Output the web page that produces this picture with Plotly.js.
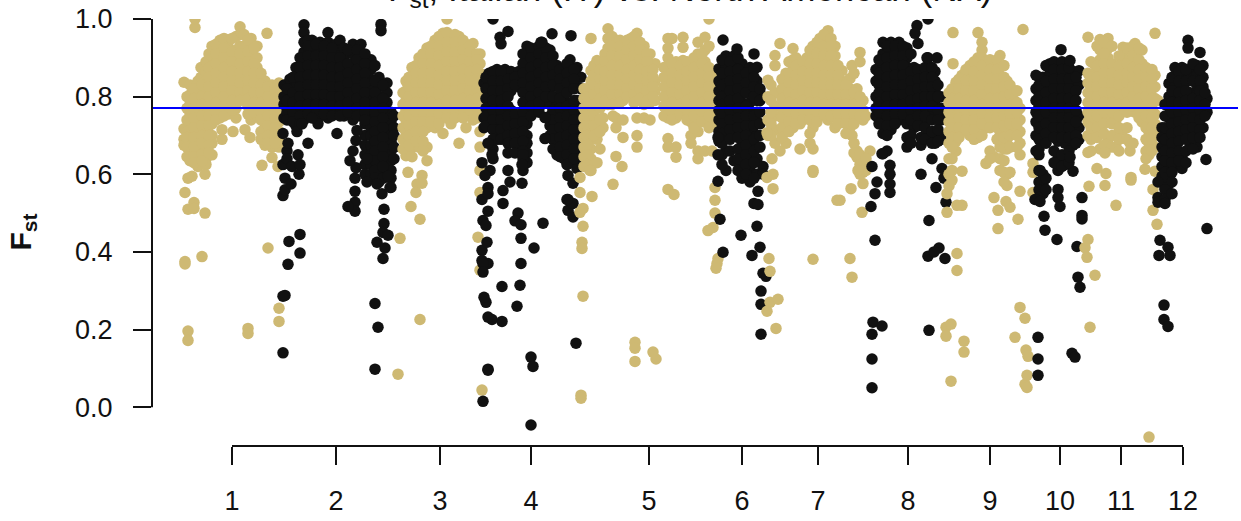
<!DOCTYPE html>
<html><head><meta charset="utf-8">
<script src="https://cdn.plot.ly/plotly-3.0.1.min.js"></script>
<style>html,body{margin:0;padding:0;background:#fff;overflow:hidden}#chart{width:1241px;height:521px}</style>
</head><body><div id="chart"></div>
<script>
// Each entry: [genome position, Fst, Fst, ...].
const chr1 = [
[184,.837,.717,.69,.675],[190,.83,.805,.78,.755,.73,.705,.68,.655,.635],[198,.84,.815,.79,.765,.74,.715,.69,.665,.64,.62],
[201,.875,.85],[206,.89,.865,.84,.815,.79,.765,.74,.715,.69,.665,.64,.625],[212,.93,.905,.88,.855,.83,.805,.78,.755,.73,.70,.68,.65],
[220,.945,.92,.895,.87,.845,.82,.795,.77,.745],[228,.945,.93,.905,.88,.855,.83,.805,.78,.755],[236,.955,.92,.895,.87,.845,.82,.795,.77,.745],
[240,.98,.96,.93],[244,.96,.93,.905,.88,.855,.83,.805,.79],[251,.95,.92,.895,.87,.845,.82,.795,.77,.75,.74],[257,.93,.90,.875,.85,.825,.80,.775,.75],
[265,.84,.815,.79,.765,.74,.72,.70,.675],[272,.83,.805,.78,.755,.73,.71,.69,.67],[279,.835,.81,.785,.76,.735,.71,.69,.67],
[187,.80,.77,.74,.71,.695,.67,.645],[194,.82,.795,.77,.745,.72,.695,.67,.645,.63],[202,.83,.80,.78,.75,.725,.70,.68,.65,.635],
[209,.91,.875,.85,.825,.80,.775,.75,.725,.70,.675,.655],[216,.935,.91,.885,.86,.835,.81,.785,.76,.74],[224,.95,.925,.90,.875,.85,.825,.80,.775,.75],
[232,.95,.915,.89,.865,.84,.815,.79,.765],[240,.91,.885,.86,.835,.81,.79],[248,.945,.915,.89,.865,.84,.815,.795,.775,.755],[254,.925,.885,.86,.835,.81,.785,.76],
[261,.86,.83,.81,.785,.76,.74,.71,.69],[268,.825,.80,.775,.75,.725,.70,.68],[275,.82,.795,.77,.745,.72,.70,.68],
[222,.715,.69],[233,.71],[245,.715],[250,.695],
[185,.553,.375,.369],[188,.59,.51,.196,.172],[192,.595],[194,.527,.512],[205,.60,.50],[202,.388],[248,.203,.19],[279,.255,.221],[268,.41],[195,.978,1.0],[267,.963],[262,.623],[272,.643],[278,.62]
];
const chr2 = [
[284,.83,.80,.78,.745],[290,.845,.82,.795,.77,.745],[296,.875,.85,.825,.80,.775,.75,.725],[304,.985,.965,.94,.915,.89,.865,.84,.815,.79,.765,.74],
[312,.945,.92,.895,.87,.845,.82,.795,.77,.75],[320,.94,.915,.89,.865,.84,.815,.79,.765,.75],[328,.965,.94,.915,.89,.865,.84,.815,.79,.77,.745],
[336,.935,.91,.885,.86,.835,.81,.785,.76],[340,.945,.92],[344,.925,.90,.875,.85,.825,.80,.775,.75],[353,.935,.91,.885,.86,.835,.81,.785,.76,.74],
[361,.935,.90,.875,.85,.825,.80,.775,.75],[365,.73,.70,.675,.65,.625,.60],[371,.895,.87,.845,.82,.795,.77,.745,.72,.70,.675,.65,.625,.60],
[379,.85,.825,.80,.775,.75,.725,.70,.675,.65,.625,.60,.58],[387,.835,.81,.785,.76,.735,.71,.685,.66,.635,.61],[391,.76,.735,.71,.685,.66,.635,.61,.59,.566],
[287,.82,.79,.76,.74],[293,.85,.81,.785,.76,.735],[300,.90,.875,.85,.825,.80,.775,.75,.73],[308,.945,.93,.905,.88,.855,.83,.805,.78,.755],[316,.935,.905,.88,.855,.83,.805,.78,.755],
[324,.93,.905,.88,.855,.83,.805,.78,.755],[332,.925,.90,.875,.85,.825,.80,.775,.75],[340,.90,.875,.85,.825,.80,.775,.75],[348,.92,.885,.86,.835,.81,.785,.76],
[357,.92,.895,.87,.845,.82,.795,.77,.75],[365,.91,.885,.86,.835,.81,.785,.76,.74],[375,.88,.84,.81,.785,.76,.735,.71,.685,.66,.635,.61,.59],
[383,.83,.795,.77,.745,.72,.695,.67,.645,.62,.59],[394,.75,.72,.70,.67,.64],
[381,.986,.97],[283,.705,.625,.545],[285,.59,.56],[287,.66,.64],[288,.68],[291,.575],[292,.62],[297,.71],[298,.65],[299,.60],[300,.625],[302,.73],[308,.68],[318,.73],[312,.745],[337,.705],
[357,.713],[356,.687,.617],[353,.66],[350,.635],[355,.59,.556,.528,.505],[348,.517],[367,.58,.64],[377,.575],[382,.55],[390,.566],[388,.595],[384,.51,.473],[383,.45,.383],[388,.443],[377,.425],[385,.41],
[289,.427],[300,.445,.397],[288,.368],[285,.288],[283,.286,.14],[375,.267,.098],[378,.206]
];
const chr3 = [
[406,.84,.815,.79,.765,.74,.71,.685,.66,.648],[412,.875,.85,.825,.80,.775,.75,.725,.695,.67,.645],[419,.90,.875,.85,.825,.80,.775,.75,.72,.695,.67],
[427,.925,.90,.875,.85,.825,.80,.775,.75,.72,.67,.635],[435,.945,.92,.895,.87,.845,.82,.795,.77,.745,.72],[443,.963,.935,.91,.885,.86,.835,.81,.785,.76,.705],
[451,.955,.925,.90,.875,.85,.825,.80,.775,.75,.73],[459,.955,.935,.91,.885,.86,.835,.81,.785,.76,.68],[466,.935,.90,.875,.85,.825,.80,.775,.75,.72],
[473,.937,.91,.885,.86,.835,.81,.785,.76,.74],[480,.91,.885,.86,.835,.81,.785,.76,.71,.67],[485,.85,.82,.78],
[403,.81,.78,.75,.72,.69,.665],[409,.85,.825,.80,.775,.75,.725,.70,.675],[416,.88,.86,.835,.81,.785,.76,.735,.71,.685],[423,.91,.885,.86,.835,.81,.785,.76,.735,.71,.685,.66],
[431,.93,.91,.885,.86,.835,.81,.785,.76,.735],[439,.955,.93,.905,.88,.855,.83,.805,.78,.755,.73],[447,.965,.94,.915,.89,.865,.84,.815,.79,.765,.745],[455,.96,.94,.915,.89,.865,.84,.815,.79,.765,.745],
[463,.945,.92,.895,.87,.845,.82,.795,.77,.745],[470,.93,.915,.89,.865,.84,.815,.79,.765],[477,.91,.895,.87,.845,.82,.795,.77,.745],
[447,1.0],[408,.605],[417,.575],[416,.553],[411,.517],[420,.484,.226],[422,.597,.577],[398,.085],[400,.435],
[480,.61,.553,.353],[478,.438],[482,.044]
];
const chr4 = [
[484,.835,.745,.72],[489,.86,.835,.81,.785,.76,.735],[497,.87,.845,.82,.795,.77,.745,.72,.69],[505,.87,.84,.815,.79,.765,.74,.715],[511,.865,.84,.815,.765,.74,.715,.69],
[519,.865,.85,.825,.745,.72,.695,.67],[527,.93,.905,.88,.855,.83,.805,.78,.755,.73,.70,.68,.655,.63],[535,.92,.895,.87,.845,.82,.795,.77],[542,.94,.905,.88,.855,.83,.805,.78],
[550,.92,.895,.87,.845,.82,.78,.75,.725,.70],[557,.88,.855,.83,.80,.775,.75,.725,.70,.675,.65],[564,.84,.815,.79,.765,.74,.715,.69,.665,.64],[570,.895,.87,.845,.82,.78,.755,.73,.705,.68,.655,.63],
[577,.875,.85,.825,.79,.765,.74,.715,.69,.665,.64,.615],[581,.85,.82],
[486,.85,.82,.795,.77,.75,.725],[493,.865,.84,.815,.79,.765,.74,.715,.69,.665,.64],[501,.865,.84,.815,.79,.765,.74,.715,.69],[508,.845,.82,.80,.775,.75,.725,.70,.68,.655],
[515,.85,.83,.755,.73,.705,.68,.655],[523,.91,.885,.86,.835,.81,.785,.76,.735,.71,.685,.66,.64,.61],[531,.925,.90,.875,.85,.825,.80,.775,.75],[539,.93,.91,.885,.86,.835,.81,.785,.76],
[546,.925,.90,.875,.85,.825,.80],[553,.905,.88,.855,.83,.80,.765,.74,.715,.69,.665],[560,.87,.845,.82,.795,.77,.745,.72,.695,.67,.645],[567,.885,.86,.835,.81,.775,.75,.725,.70,.675,.65,.625],[574,.87,.845,.82,.79,.765,.74,.715,.69,.665,.64],
[493,1.0],[508,.968],[500,.953],[501,.936],[552,.962],[571,.957],[541,.94],[482,.63,.535,.404,.378],[488,.68,.566,.55,.505,.37],[492,.65,.226],[490,.61],[485,.597],[483,.481,.37,.348,.015],[486,.468,.27],[487,.425],
[523,.65],[522,.625,.577],[508,.61],[510,.58],[503,.558,.525],[518,.50],[515,.48],[521,.47,.435,.37],[543,.474],[534,.41],[545,.692,.746],[568,.597,.535,.507],[573,.577,.525,.49],[567,.535],
[502,.311,.221],[520,.314],[484,.283],[517,.26],[488,.232,.098,.095],[531,.129,-.046],[533,.105],[576,.165]
];
const chr5 = [
[584,.82,.795,.77,.745,.72,.695,.67,.645,.62],[591,.95,.867,.84,.815,.79,.765,.74,.715,.69,.665,.64,.61],[597,.893,.865,.84,.815,.79,.74,.715,.69,.63],[603,.88,.855,.83,.805,.78,.745,.72],
[608,.975,.95,.925,.90,.875,.85,.825,.80,.78],[616,.945,.92,.895,.87,.845,.82,.80,.745,.72],[623,.94,.915,.89,.865,.84,.815,.79,.74,.695],[631,.95,.925,.90,.875,.85,.825,.80],[637,.963,.94,.915,.89,.865,.84,.815,.79,.745,.70,.67],
[644,.93,.905,.88,.855,.83,.805,.78,.745],[650,.91,.885,.86,.835,.81,.785,.74],[655,.885,.84,.815,.79],
[668,.95,.925,.90,.875,.85,.825,.80,.775,.745,.692,.67],[676,.89,.865,.84,.815,.79,.765,.745,.644,.67],[683,.953,.927,.893,.87,.845,.82,.795,.77],[691,.885,.86,.835,.81,.785,.76,.735,.70,.68],
[698,.94,.91,.885,.86,.835,.81,.785,.76,.735,.71,.66,.64],[705,.953,.92,.89,.865,.84,.815,.79,.765,.74,.66],[712,.86,.835,.81,.785,.76,.73,.66],
[587,.82,.80,.775,.75,.725,.70,.675,.65,.625],[594,.88,.855,.83,.805,.78,.75,.725,.70],[600,.89,.87,.845,.82,.795,.77,.74,.71],[605,.91,.89,.865,.84,.815,.79],[612,.955,.93,.905,.88,.855,.83,.805,.78],
[620,.945,.93,.905,.88,.855,.83,.805,.785],[627,.945,.92,.895,.87,.845,.82,.80],[634,.955,.93,.905,.88,.855,.83,.805,.785],[640,.94,.92,.895,.87,.845,.82,.795],[647,.91,.89,.865,.84,.815,.79],[653,.87,.85,.825,.80],
[664,.875,.85,.825,.80,.775,.75],[672,.95,.885,.86,.835,.81,.785,.76,.74],[680,.88,.855,.83,.805,.78,.755],[687,.89,.865,.84,.815,.79,.765,.74],[694,.90,.875,.85,.825,.80,.775,.75,.72],[702,.91,.885,.86,.835,.81,.785,.76,.735],[709,.93,.875,.85,.825,.80,.775,.75,.72],
[709,1.0],[613,.574,.75],[616,.646],[622,.62],[668,.561],[674,.548],[600,.665],[590,.61],
[580,.592,.553,.502],[592,.543],[583,.512,.466,.286],[582,.425,.409],[581,.031,.023],[635,.167,.152,.118],[653,.142],[656,.124],
[715,.566,.533,.50],[713,.463],[708,.455],[718,.383],[717,.37],[716,.358]
];
const chr6 = [
[719,.872,.84,.815,.79,.765,.74,.71,.685],[726,.905,.875,.85,.825,.80,.775,.75,.725,.70,.66,.61],[734,.905,.88,.855,.83,.805,.78,.755,.73,.705,.635],[742,.885,.86,.835,.81,.785,.76,.735,.71,.675,.65,.62,.59],
[750,.875,.85,.825,.785,.76,.735,.71,.685,.66,.635,.61,.58],[757,.876,.84,.815,.79,.76,.735,.70,.67,.64,.60],[763,.80,.62,.60],
[722,.895,.86,.83,.80,.78,.755,.73,.705,.68,.65,.625],[730,.89,.865,.84,.815,.79,.765,.74,.715,.69,.66],[738,.90,.87,.845,.82,.795,.77,.745,.72,.695,.665,.64,.61],[746,.86,.835,.81,.775,.75,.725,.70,.675,.65,.625,.60],
[754,.87,.85,.825,.80,.75,.725,.69,.66,.63,.59],[760,.82,.79,.76,.73,.70,.67],
[723,.946],[737,.923],[754,.91],[718,.582,.65,.695],[758,.556],[754,.525],[758,.522],
[720,.484],[741,.443],[757,.466],[760,.412],[723,.399],[752,.391],[763,.345],[766,.337],[761,.299,.265,.188]
];
const chr7 = [
[768,.842,.80,.74,.70],[775,.906,.88,.81,.775,.75,.715,.68],[780,.937],[786,.86,.835,.81,.785,.76,.735,.71,.68],[793,.924,.895,.87,.845,.82,.795,.77,.745,.72],
[800,.88,.855,.83,.805,.78,.755,.73,.665],[807,.90,.875,.85,.825,.80,.775,.75],[813,.93,.905,.88,.855,.83,.805,.78,.755,.72,.665,.61,.605],[820,.95,.925,.90,.875,.85,.825,.80,.775,.75],
[828,.97,.945,.92,.895,.87,.845,.82,.795,.77,.74],[835,.93,.905,.88,.855,.83,.805,.78,.755,.72],[842,.867,.84,.815,.79,.765,.74],[850,.847,.82,.795,.77,.745,.72],
[852,.88,.70],[857,.82,.795,.77,.745,.66,.644],[860,.914],[863,.79,.765,.74,.625,.605,.576],[870,.66],
[771,.83,.79,.76,.73,.70],[782,.845,.82,.795,.77,.745,.72,.695],[789,.89,.86,.835,.81,.785,.76,.735,.71],[796,.90,.88,.855,.83,.805,.78,.755,.73],[803,.89,.865,.84,.815,.79,.765,.74],
[810,.92,.885,.86,.835,.81,.785,.76,.74,.705,.68],[817,.94,.91,.885,.86,.835,.81,.785,.76,.735],[824,.96,.93,.905,.88,.855,.83,.805,.78,.755],[831,.95,.93,.905,.88,.855,.83,.805,.78,.75],
[838,.88,.855,.83,.805,.78,.755,.73],[846,.83,.805,.78,.755,.73,.705],[854,.86,.81,.78,.755,.73,.68,.655],[860,.89,.80,.775,.75,.65,.625,.60],[866,.75,.64,.61],
[767,.707,.592],[772,.64],[773,.60,.563],[780,.66],[837,.533],[858,.61],[851,.563],[840,.533],[862,.502],[850,.383],[852,.335],
[769,.383],[770,.35,.27],[778,.278],[767,.247],[776,.203],[813,.381]
];
const chr8 = [
[876,.87,.84,.80,.77,.75],[883,.94,.91,.885,.86,.835,.81,.785,.76,.735,.705,.653],[891,.94,.915,.89,.865,.84,.815,.79,.765,.74,.715],[899,.94,.915,.89,.865,.84,.815,.79,.765,.74],
[907,.925,.90,.875,.85,.825,.80,.775,.75,.73,.695,.67],[914,.875,.85,.825,.80,.775,.745,.72],[921,.865,.84,.815,.79,.765,.74,.695,.675],[928,.90,.865,.84,.815,.79,.765,.74,.70],
[935,.865,.84,.815,.78,.755,.70,.68],[941,.80,.77,.74,.70,.69],[945,.77,.75],
[879,.895,.86,.83,.81,.785,.76,.73],[887,.93,.90,.875,.85,.825,.80,.775,.75,.725,.70,.66],[895,.93,.905,.88,.855,.83,.805,.78,.755,.73],[903,.93,.905,.88,.855,.83,.805,.78,.755],
[911,.91,.865,.84,.815,.79,.765,.74,.70,.68],[918,.87,.845,.82,.795,.77,.75,.725],[925,.875,.85,.825,.80,.775,.75,.72,.69],[932,.875,.85,.825,.80,.775,.74,.71,.68],[938,.83,.80,.765,.74,.715,.685],
[928,1.0],[917,.983],[915,.963],[918,.937],[927,.90],[937,.90],[932,.64],[882,.653],[872,.62],[890,.623,.60,.575,.553],[877,.58],[875,.55,.43],[871,.517],[921,.60],[942,.615],[944,.59],[936,.566],[946,.528],[929,.481],
[939,.41],[928,.389],[934,.40],[945,.383],[873,.219],[882,.209],[872,.188,.124,.05],[929,.198]
];
const chr9 = [
[949,.81,.785,.76,.735,.71,.68,.64,.60,.57],[956,.837,.81,.785,.76,.735,.71,.685,.66],[953,.965,.885],[962,.855,.83,.805,.78,.755,.73,.71,.608,.52],[970,.88,.855,.83,.805,.78,.755,.73,.70],
[978,.965,.90,.875,.85,.825,.80,.775,.75,.725,.695],[982,.94,.92,.90],[986,.89,.865,.84,.815,.79,.765,.74,.72,.628],[994,.885,.86,.835,.81,.785,.76,.735,.645],
[1000,.906,.875,.85,.825,.80,.775,.75,.725,.70,.67,.64,.61],[1007,.84,.815,.79,.765,.74,.715,.69,.665,.60,.571],[1014,.815,.79,.765,.74,.715],[1020,.77,.74,.71,.68,.65,.556],[1023,.973],[1033,.628,.605,.553],
[952,.82,.795,.77,.745,.72,.695,.67,.64,.61,.585],[959,.845,.82,.795,.77,.745,.72,.695],[966,.87,.84,.815,.79,.765,.74,.715],[974,.89,.865,.84,.815,.79,.765,.74,.715,.69],[982,.88,.855,.83,.805,.78,.755,.73,.70],
[990,.895,.87,.845,.82,.795,.77,.745,.72,.66,.64],[997,.895,.87,.845,.82,.795,.77,.745,.72,.69],[1004,.88,.85,.825,.80,.775,.75,.725,.695,.665,.635,.605,.58],[1010,.83,.805,.78,.755,.73,.70,.67,.605],[1017,.815,.785,.76,.73,.70,.67],
[947,.55,.502],[957,.52,.396,.352],[994,.54],[1006,.53],[1010,.515],[998,.507,.46],[1018,.484],
[946,.206,.183],[951,.214,.067],[964,.17,.142],[1020,.257],[1025,.229,.059],[1015,.18],[1026,.147],[1028,.131],[1027,.082,.051]
];
const chr10 = [
[1036,.855,.82,.79,.76,.735,.70,.66],[1043,.85,.82,.795,.77,.745,.72,.695,.60,.575,.55],[1050,.885,.86,.835,.81,.785,.76,.735,.70],[1058,.885,.86,.835,.81,.785,.76,.735,.71,.685,.64,.61,.561,.54],
[1065,.88,.855,.83,.805,.78,.755,.73,.705,.68,.625],[1073,.865,.84,.80,.775,.75,.725,.70,.675,.608],[1079,.867,.83,.75,.72,.69],
[1039,.85,.83,.80,.775,.75,.72,.69,.665,.65,.61,.58,.56,.54],[1046,.88,.84,.81,.785,.76,.73,.705,.68,.59,.56],[1054,.89,.87,.845,.82,.795,.77,.745,.72,.695,.66,.63],
[1062,.89,.87,.845,.82,.795,.77,.745,.72,.695,.65,.62],[1069,.875,.845,.82,.795,.77,.745,.72,.695,.66,.63],[1076,.85,.815,.79,.765,.735,.70,.68],
[1061,.921],[1070,.893,.644],[1060,.517],[1035,.535],[1040,.61,.53],[1082,.54,.494,.485],[1044,.492],[1045,.456],[1057,.432],[1077,.414],[1078,.335],[1080,.309],[1038,.18,.124,.082],[1072,.139],[1075,.129]
];
const chr11 = [
[1088,.953,.86,.835,.81,.785,.76,.735,.70,.656],[1094,.885,.86,.835,.81,.785,.76,.73,.705],[1100,.947,.92,.895,.87,.845,.82,.795,.77,.745,.665],[1108,.95,.925,.90,.875,.85,.825,.80,.775,.745,.69],
[1116,.87,.845,.82,.795,.77,.74,.70,.67],[1123,.927,.90,.875,.85,.825,.80,.775,.715],[1130,.92,.895,.87,.845,.82,.795,.77,.68,.66],[1135,.937,.91,.885,.86,.835,.81,.785,.76],
[1142,.92,.885,.86,.835,.81,.785,.76,.735],[1149,.86,.835,.81,.785,.76,.735,.71,.68,.65],[1155,.963,.855,.825,.795,.755,.73,.70,.67],[1158,.79],
[1091,.89,.85,.825,.80,.775,.75,.72,.69,.66],[1097,.93,.88,.85,.825,.80,.775,.75,.72,.695],[1104,.94,.91,.885,.86,.835,.81,.785,.76,.73,.705,.675],[1112,.93,.885,.86,.835,.81,.785,.76,.73,.70,.67],
[1119,.905,.88,.855,.83,.805,.78,.75,.72,.69,.66],[1127,.925,.885,.86,.835,.81,.785,.76,.72,.69],[1133,.93,.905,.875,.85,.825,.80,.775,.68],[1139,.925,.895,.87,.845,.82,.795,.77,.745],
[1146,.875,.85,.825,.80,.775,.75,.72,.69,.66,.64],[1152,.87,.845,.82,.795,.77,.745,.72,.69,.66],
[1097,.615],[1106,.602],[1105,.571,.655],[1089,.569],[1131,.592,.585],[1145,.613],[1155,.608],[1116,.52],[1153,.561,.507],[1157,.471],[1088,.432],[1085,.411],[1087,.386],[1095,.34],[1090,.206],[1149,-.077]
];
const chr12 = [
[1162,.72,.695,.67,.645,.62,.595],[1169,.834,.80,.775,.745,.72,.695,.67,.645,.62,.595,.575,.55],[1175,.875,.85,.825,.80,.775,.75,.725,.70,.675,.65,.625],[1182,.875,.85,.825,.80,.775,.75,.725,.695,.644,.615],
[1190,.865,.81,.785,.76,.735,.71,.67],[1197,.88,.855,.83,.805,.78,.755,.73,.70,.67],[1203,.88,.85,.825,.80,.775,.75,.72],[1207,.795,.76],
[1165,.78,.75,.72,.69,.66,.635,.605,.59,.565],[1172,.85,.815,.785,.76,.73,.705,.68,.655,.63,.605,.58],[1179,.865,.84,.81,.785,.76,.735,.71,.685,.66,.635],[1186,.87,.84,.815,.79,.765,.74,.715,.69,.66,.63],
[1193,.885,.84,.795,.77,.745,.72,.695,.665],[1200,.87,.84,.815,.79,.765,.74,.715,.695],[1205,.81,.78,.75],
[1188,.945,.925],[1200,.914],[1206,.638],[1158,.58,.54,.528],[1165,.56,.535,.525],[1172,.55],[1207,.46],
[1160,.43],[1168,.412],[1159,.391],[1170,.391],[1164,.263,.226],[1168,.208]
];
const chromosomes = [chr1,chr2,chr3,chr4,chr5,chr6,chr7,chr8,chr9,chr10,chr11,chr12];
const chrColors = ['#CEB973','#111111'];
const tickPositions = [232,336,440,531,649,742,818,908,990,1060,1121,1183];
const tickLabels = ['1','2','3','4','5','6','7','8','9','10','11','12'];
const yTicks = [0,0.2,0.4,0.6,0.8,1.0];
const yTickLabels = ['0.0','0.2','0.4','0.6','0.8','1.0'];
const threshold = 0.771;

const traces = chromosomes.map((chr,i)=>{
  const x=[],y=[];
  chr.forEach(col=>col.slice(1).forEach(v=>{x.push(col[0]);y.push(v);}));
  return {type:'scatter',mode:'markers',x,y,hoverinfo:'skip',showlegend:false,
    marker:{size:11.5,color:chrColors[i%2],line:{width:0}}};
});
traces.push({type:'scatter',mode:'lines',x:[152,1238],y:[threshold,threshold],hoverinfo:'skip',showlegend:false,
  line:{color:'#0000FF',width:2}});

const fnt={family:'"Liberation Sans",Arial,sans-serif',size:27,color:'#111111'};
Plotly.newPlot('chart',traces,{
  width:1241,height:521,paper_bgcolor:'#fff',plot_bgcolor:'#fff',showlegend:false,
  margin:{l:152,r:3,t:18.5,b:75,pad:0},
  xaxis:{range:[152,1238],tickmode:'array',tickvals:tickPositions,ticktext:tickLabels,ticks:'outside',ticklen:18,tickwidth:2,tickcolor:'#111',
    showgrid:false,zeroline:false,showline:false,tickfont:fnt,ticklabelstandoff:13,tickangle:0},
  yaxis:{range:[-0.1,1.0],tickmode:'array',tickvals:yTicks,ticktext:yTickLabels,ticks:'outside',ticklen:18,tickwidth:2,tickcolor:'#111',
    showgrid:false,zeroline:false,showline:false,tickfont:fnt,ticklabelstandoff:15},
  shapes:[
    {type:'line',xref:'paper',yref:'y',x0:0,x1:0,y0:0,y1:1,line:{color:'#111',width:2}},
    {type:'line',xref:'x',yref:'paper',x0:232,x1:1183,y0:0,y1:0,line:{color:'#111',width:2}}
  ],
  annotations:[
    {xref:'paper',yref:'paper',x:(690-152)/1086,y:1,yshift:28,xanchor:'center',yanchor:'middle',showarrow:false,
     text:'F<sub>st</sub>, Italian (IT) vs. North American (NA)',font:{family:fnt.family,size:35,color:'#111111'}},
    {xref:'paper',yref:'paper',x:-130/1086,y:0.5,textangle:-90,xanchor:'center',yanchor:'middle',showarrow:false,
     text:'<b>F<sub>st</sub></b>',font:{family:fnt.family,size:30,color:'#111111'}}
  ]
},{displayModeBar:false,responsive:false});
</script></body></html>
